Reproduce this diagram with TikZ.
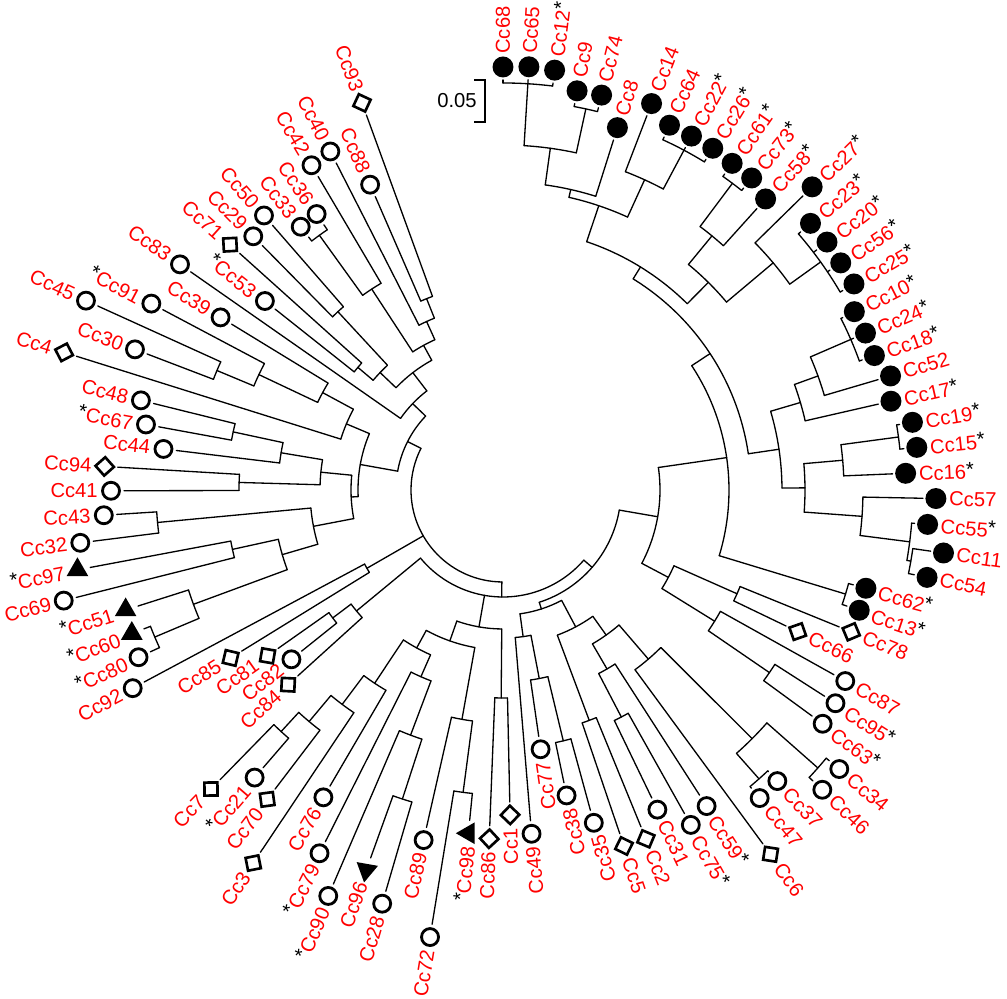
\documentclass[tikz,border=0pt]{standalone}
\usepackage{fontspec}
\setmainfont{Liberation Sans}
\usetikzlibrary{shapes.geometric}

\tikzset{
  branch/.style={line width=0.75pt, line cap=round},
  lab/.style={text=red, font=\fontsize{11.5}{12}\selectfont, inner sep=0pt},
  full/.style={circle, fill=black, minimum size=0.42cm, inner sep=0pt},
  ring/.style={circle, draw=black, line width=1.6pt, minimum size=0.34cm, inner sep=0pt},
  box/.style={diamond, aspect=1, draw=black, line width=1.5pt, minimum size=0.39cm, inner sep=0pt, rotate=\la},
  tri/.style={regular polygon, regular polygon sides=3, fill=black, minimum size=0.5cm, inner sep=0pt},
}
\newcommand\mkstar{\textcolor{black}{\raisebox{0.25ex}{*}}}
% leaf: index, name, tip radius, symbol, star
\newcommand\leaf[5]{%
  \pgfmathsetmacro\la{90-3.505*#1}%
  \expandafter\xdef\csname A#2\endcsname{\la}%
  \expandafter\xdef\csname R#2\endcsname{#3}%
  \pgfmathsetmacro\ls{#3+13}%
  \pgfmathsetmacro\lt{#3+26}%
  \node[#4] (s#2) at (\la:\ls) {};
  \ifnum#1<47
    \node[lab, anchor=west, rotate=\la] (l#2) at (\la:\lt) {#2\ifnum#5=1\mkstar\fi};
  \else
    \node[lab, anchor=east, rotate=\la+180] (l#2) at (\la:\lt) {\ifnum#5=1\mkstar\fi#2};
  \fi
}
% clade: name, radius, children (clockwise)
\newcommand\clade[3]{%
  \foreach \ch [count=\k] in {#3}{%
    \ifnum\k=1 \xdef\cfirst{\ch}\fi
    \xdef\clast{\ch}%
  }%
  \pgfmathsetmacro\angA{\csname A\cfirst\endcsname}%
  \pgfmathsetmacro\angB{\csname A\clast\endcsname}%
  \draw[branch] (\angA:#2) arc[start angle=\angA, end angle=\angB, radius=#2*0.02cm];
  \foreach \ch in {#3}{%
    \edef\ac{\csname A\ch\endcsname}\edef\rc{\csname R\ch\endcsname}%
    \draw[branch] (\ac:#2) -- (\ac:\rc);
  }%
  \pgfmathsetmacro\angM{(\angA+\angB)/2}%
  \expandafter\xdef\csname A#1\endcsname{\angM}%
  \expandafter\xdef\csname R#1\endcsname{#2}%
  \coordinate (#1) at (\angM:#2);
}

\begin{document}
\begin{tikzpicture}[x=0.02cm, y=0.02cm]
\useasboundingbox (-503,-509) rectangle (504,490);
%leaves
\leaf{0}{Cc68}{410}{full}{0}
\leaf{1}{Cc65}{411}{full}{0}
\leaf{2}{Cc12}{410}{full}{1}
\leaf{3}{Cc9}{393}{full}{0}
\leaf{4}{Cc74}{394}{full}{0}
\leaf{5}{Cc8}{367}{full}{0}
\leaf{6}{Cc14}{401}{full}{0}
\leaf{7}{Cc64}{388}{full}{0}
\leaf{8}{Cc22}{388}{full}{1}
\leaf{9}{Cc26}{388}{full}{1}
\leaf{10}{Cc61}{386}{full}{1}
\leaf{11}{Cc73}{386}{full}{1}
\leaf{12}{Cc58}{379}{full}{1}
\leaf{13}{Cc27}{420}{full}{1}
\leaf{14}{Cc23}{394}{full}{1}
\leaf{15}{Cc20}{395}{full}{1}
\leaf{16}{Cc56}{394}{full}{1}
\leaf{17}{Cc25}{394}{full}{1}
\leaf{18}{Cc10}{381}{full}{1}
\leaf{19}{Cc24}{382}{full}{1}
\leaf{20}{Cc18}{382}{full}{1}
\leaf{21}{Cc52}{391}{full}{0}
\leaf{22}{Cc17}{385}{full}{1}
\leaf{23}{Cc19}{402}{full}{1}
\leaf{24}{Cc15}{403}{full}{1}
\leaf{25}{Cc16}{390}{full}{1}
\leaf{26}{Cc57}{420}{full}{0}
\leaf{27}{Cc55}{413}{full}{1}
\leaf{28}{Cc11}{432}{full}{0}
\leaf{29}{Cc54}{420}{full}{0}
\leaf{30}{Cc62}{363}{full}{1}
\leaf{31}{Cc13}{363}{full}{1}
\leaf{32}{Cc78}{363}{box}{0}
\leaf{33}{Cc66}{314}{box}{0}
\leaf{34}{Cc87}{379}{ring}{0}
\leaf{35}{Cc95}{382}{ring}{1}
\leaf{36}{Cc63}{383}{ring}{1}
\leaf{37}{Cc34}{424}{ring}{0}
\leaf{38}{Cc46}{425}{ring}{0}
\leaf{39}{Cc37}{387}{ring}{0}
\leaf{40}{Cc47}{388}{ring}{0}
\leaf{41}{Cc6}{439}{box}{0}
\leaf{42}{Cc59}{363}{ring}{1}
\leaf{43}{Cc75}{371}{ring}{1}
\leaf{44}{Cc31}{342}{ring}{0}
\leaf{45}{Cc2}{364}{box}{0}
\leaf{46}{Cc5}{363}{box}{0}
\leaf{47}{Cc35}{332}{ring}{0}
\leaf{48}{Cc38}{299}{ring}{0}
\leaf{49}{Cc77}{249}{ring}{0}
\leaf{50}{Cc49}{332}{ring}{0}
\leaf{51}{Cc1}{312}{box}{0}
\leaf{52}{Cc86}{336}{box}{0}
\leaf{53}{Cc98}{332}{tri,rotate=90}{1}
\leaf{54}{Cc72}{440}{ring}{0}
\leaf{55}{Cc89}{346}{ring}{0}
\leaf{56}{Cc28}{418}{ring}{0}
\leaf{57}{Cc96}{391}{tri,rotate=170}{0}
\leaf{58}{Cc90}{429}{ring}{1}
\leaf{59}{Cc79}{394}{ring}{1}
\leaf{60}{Cc76}{343}{ring}{0}
\leaf{61}{Cc3}{436}{box}{0}
\leaf{62}{Cc70}{376}{box}{0}
\leaf{63}{Cc21}{367}{ring}{1}
\leaf{64}{Cc7}{405}{box}{0}
\leaf{65}{Cc84}{277}{box}{0}
\leaf{66}{Cc82}{258}{ring}{0}
\leaf{67}{Cc81}{275}{box}{0}
\leaf{68}{Cc85}{307}{box}{0}
\leaf{69}{Cc92}{407}{ring}{0}
\leaf{70}{Cc80}{388}{ring}{1}
\leaf{71}{Cc60}{385}{tri}{1}
\leaf{72}{Cc51}{383}{tri}{1}
\leaf{73}{Cc69}{440}{ring}{0}
\leaf{74}{Cc97}{420}{tri}{1}
\leaf{75}{Cc32}{413}{ring}{0}
\leaf{76}{Cc43}{387}{ring}{0}
\leaf{77}{Cc41}{379}{ring}{0}
\leaf{78}{Cc94}{386}{box}{0}
\leaf{79}{Cc44}{329}{ring}{0}
\leaf{80}{Cc67}{350}{ring}{1}
\leaf{81}{Cc48}{360}{ring}{0}
\leaf{82}{Cc4}{447}{box}{0}
\leaf{83}{Cc30}{381}{ring}{0}
\leaf{84}{Cc45}{445}{ring}{0}
\leaf{85}{Cc91}{385}{ring}{1}
\leaf{86}{Cc39}{318}{ring}{0}
\leaf{87}{Cc83}{381}{ring}{0}
\leaf{88}{Cc53}{291}{ring}{1}
\leaf{89}{Cc71}{354}{box}{0}
\leaf{90}{Cc29}{343}{ring}{0}
\leaf{91}{Cc50}{351}{ring}{0}
\leaf{92}{Cc33}{319}{ring}{0}
\leaf{93}{Cc36}{320}{ring}{0}
\leaf{94}{Cc42}{364}{ring}{0}
\leaf{95}{Cc40}{367}{ring}{0}
\leaf{96}{Cc88}{320}{ring}{0}
\leaf{97}{Cc93}{399}{box}{0}
%clade of filled circles
\clade{a1}{407}{Cc68,Cc65,Cc12}
\clade{a2}{390}{Cc9,Cc74}
\clade{a3}{345}{a1,a2}
\clade{a4}{308}{a3,Cc8}
\clade{b1}{385}{Cc64,Cc22,Cc26}
\clade{b2}{341}{Cc14,b1}
\clade{a5}{300}{a4,b2}
\clade{c1}{383}{Cc61,Cc73}
\clade{c0}{329}{c1,Cc58}
\clade{f0}{391}{Cc23,Cc20,Cc56,Cc25}
\clade{f1}{353}{Cc27,f0}
\clade{c2}{292}{c0,f1}
\clade{a6}{262}{a5,c2}
\clade{e0}{379}{Cc10,Cc24,Cc18}
\clade{e3}{335}{e0,Cc52}
\clade{e1}{310}{e3,Cc17}
\clade{g0}{399}{Cc19,Cc15}
\clade{g1}{341}{g0,Cc16}
\clade{i1}{414}{Cc11,Cc54}
\clade{i2}{410}{Cc55,i1}
\clade{h}{360}{Cc57,i2}
\clade{g}{302}{g1,h}
\clade{d}{279}{e1,g}
\clade{a7}{248}{a6,d}
\clade{k0}{358}{Cc62,Cc13}
\clade{aR}{226}{a7,k0}
%lower right
\clade{j1}{256}{Cc78,Cc66}
\clade{j2}{323}{Cc95,Cc63}
\clade{j3}{249}{Cc87,j2}
\clade{j}{187}{j1,j3}
\clade{x1}{157}{aR,j}
\clade{l1}{420}{Cc34,Cc46}
\clade{l2}{386}{Cc37,Cc47}
\clade{l}{352}{l1,l2}
\clade{m}{223}{l,Cc6}
\clade{o1}{256}{Cc75,Cc31}
\clade{o}{207}{Cc59,o1}
\clade{n}{178}{m,o}
\clade{s1}{246}{Cc2,Cc5}
\clade{r1}{155}{n,s1}
\clade{p}{258}{Cc35,Cc38}
\clade{q}{192}{p,Cc77}
\clade{u1}{148}{q,Cc49}
\clade{y0}{125}{r1,u1}
\clade{x2}{118}{x1,y0}
%bottom
\clade{c3}{208}{Cc1,Cc86}
\clade{v1}{305}{Cc98,Cc72}
\clade{v2}{233}{v1,Cc89}
\clade{w1}{325}{Cc28,Cc96}
\clade{w2}{262}{w1,Cc90}
\clade{w3}{204}{w2,Cc79}
\clade{y1}{328}{Cc21,Cc7}
\clade{y2}{302}{Cc70,y1}
\clade{y3}{268}{Cc3,y2}
\clade{w5}{232}{Cc76,y3}
\clade{w4}{180}{w3,w5}
\clade{v3}{160}{v2,w4}
\clade{u2}{139}{c3,v3}
\clade{z1}{213}{Cc82,Cc81}
\clade{z2}{190}{Cc84,z1}
\clade{bb}{107}{x2,u2,z2}
\clade{z3}{157}{Cc85,Cc92}
%left
\clade{al1}{378}{Cc80,Cc60}
\clade{al2}{330}{al1,Cc51}
\clade{am2}{277}{Cc69,Cc97}
\clade{an}{230}{al2,am2}
\clade{am1}{347}{Cc32,Cc43}
\clade{ao}{193}{an,am1}
\clade{aq1}{264}{Cc41,Cc94}
\clade{aq2}{276}{Cc67,Cc48}
\clade{aq3}{225}{Cc44,aq2}
\clade{aq4}{183}{aq1,aq3}
\clade{ap}{152}{ao,aq4}
\clade{at1}{310}{Cc30,Cc45}
\clade{at2}{270}{at1,Cc91}
\clade{at3}{205}{at2,Cc39}
\clade{at4}{170}{Cc4,at3}
\clade{ar}{145}{ap,at4}
%upper left
\clade{aw2}{190}{Cc53,Cc71}
\clade{aw1}{243}{Cc29,Cc50}
\clade{aw3}{170}{aw2,aw1}
\clade{au0}{314}{Cc33,Cc36}
\clade{au1}{240}{au0,Cc42}
\clade{av1}{206}{Cc88,Cc93}
\clade{av2}{185}{Cc40,av1}
\clade{au3}{165}{au1,av2}
\clade{ax}{148}{aw3,au3}
\clade{ay}{125}{Cc83,ax}
\clade{as}{107}{ar,ay}
\clade{root}{92}{bb,z3,as}
%scale
\coordinate (bt) at (-18,410);
\coordinate (bb0) at (-18,368);
\draw[line width=1.1pt] ([xshift=-0.22cm]bt) -- (bt) -- (bb0) -- ([xshift=-0.22cm]bb0);
\node[font=\fontsize{11.5}{12}\selectfont, anchor=east, inner sep=0pt] (sc) at (-26,389) {0.05};
\end{tikzpicture}
\end{document}
